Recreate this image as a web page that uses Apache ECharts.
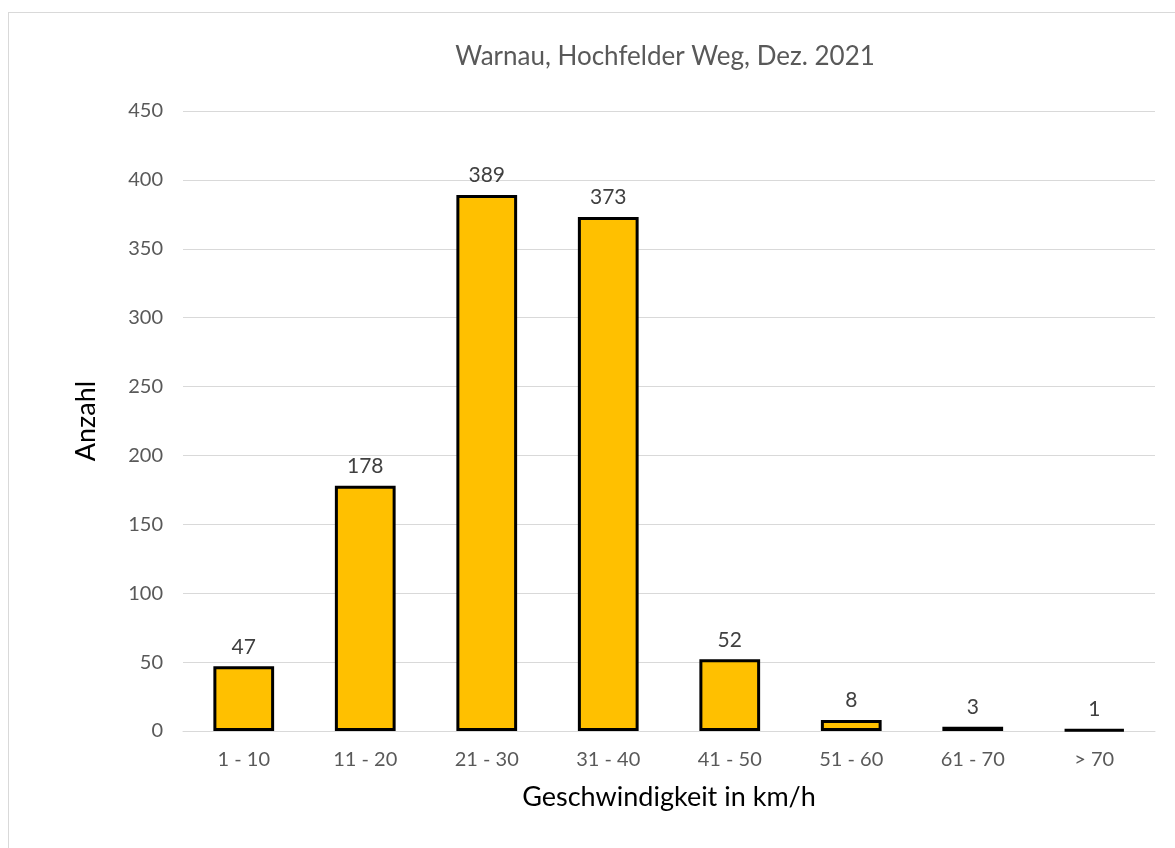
<!DOCTYPE html>
<html>
<head>
<meta charset="utf-8">
<script src="https://cdn.jsdelivr.net/npm/echarts@6/dist/echarts.min.js"></script>
<style>
html,body{margin:0;padding:0;background:#fff;}
#frame{position:absolute;left:8px;top:12px;width:1200px;height:900px;border-left:1px solid #d9d9d9;border-top:1px solid #d9d9d9;}
#main{position:absolute;left:0;top:0;width:1175px;height:848px;}
</style>
</head>
<body>
<div id="frame"></div>
<div id="main"></div>
<script>
// Kategorien (Geschwindigkeit) und Anzahl
var kategorien = ['1 - 10', '11 - 20', '21 - 30', '31 - 40', '41 - 50', '51 - 60', '61 - 70', '> 70'];
var anzahl = [47, 178, 389, 373, 52, 8, 3, 1];
var titel = 'Warnau, Hochfelder Weg, Dez. 2021';

var myChart = echarts.init(document.getElementById('main'));
var schrift = 'Lato, "Open Sans", sans-serif';
var option = {
    backgroundColor: 'transparent',
    animation: false,
    title: {
        text: titel,
        left: 660,
        top: 39,
        textAlign: 'center',
        textStyle: { fontFamily: schrift, fontSize: 26, fontWeight: 'normal', color: '#595959' }
    },
    grid: { left: 183, right: 20, top: 111, bottom: 117 },
    xAxis: {
        type: 'category',
        data: kategorien,
        name: 'Geschwindigkeit in km/h',
        nameLocation: 'middle',
        nameGap: 53,
        nameTextStyle: { fontFamily: schrift, fontSize: 27, color: '#000' },
        axisLine: { lineStyle: { color: '#d9d9d9', width: 1 } },
        axisTick: { show: false },
        axisLabel: { fontFamily: schrift, fontSize: 20, color: '#595959', margin: 19 }
    },
    yAxis: {
        type: 'value',
        min: 0,
        max: 450,
        interval: 50,
        name: 'Anzahl',
        nameLocation: 'middle',
        nameGap: 83,
        nameRotate: 90,
        nameTextStyle: { fontFamily: schrift, fontSize: 27, color: '#000' },
        axisLine: { show: false },
        axisTick: { show: false },
        axisLabel: { fontFamily: schrift, fontSize: 20, color: '#595959', margin: 20 },
        splitLine: { lineStyle: { color: '#d9d9d9', width: 1 } }
    },
    series: [{
        type: 'bar',
        data: anzahl,
        barWidth: '50%',
        itemStyle: { color: '#FFC000', borderColor: '#000', borderWidth: 3 },
        label: {
            show: true,
            position: 'top',
            distance: 9,
            fontFamily: schrift,
            fontSize: 21,
            color: '#404040'
        }
    }]
};
myChart.setOption(option);
</script>
</body>
</html>
